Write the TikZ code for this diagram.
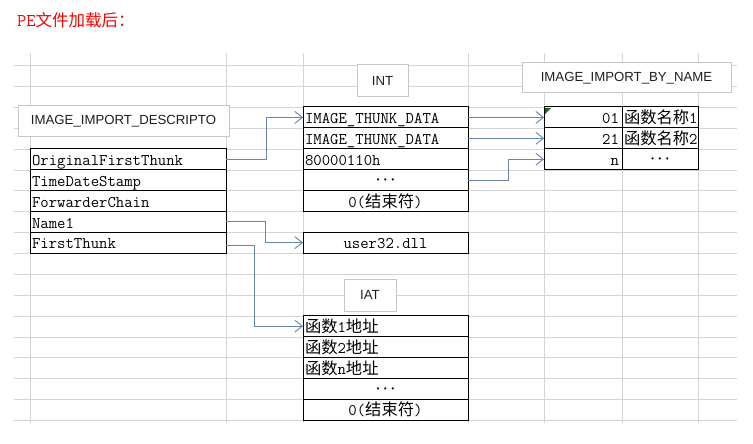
\documentclass[tikz,border=0pt]{standalone}
\usepackage{fontspec}
\newfontfamily\cjk{Noto Sans CJK SC}
\newfontfamily\lblfamily{Liberation Sans}
\usetikzlibrary{arrows.meta}
\definecolor{gridgray}{RGB}{212,212,212}
\definecolor{arrowblue}{RGB}{104,134,172}
\definecolor{lblborder}{RGB}{198,198,198}
\definecolor{lbltext}{RGB}{30,30,30}
\definecolor{marker}{RGB}{30,100,40}
\newcommand{\tabfont}{\ttfamily\fontsize{16.3}{18}\selectfont}
\newcommand{\cj}[1]{{\cjk #1}}
\newcommand{\ddd}{\raisebox{2.5pt}{\fontsize{15}{15}\selectfont\boldmath$\cdots$}}
\begin{document}
\begin{tikzpicture}[x=1pt,y=-1pt,
  gridline/.style={draw=gridgray, line width=1.3pt},
  cell/.style={draw=black, line width=1pt, fill=white, inner xsep=2pt, inner ysep=0pt, outer sep=0pt,
    minimum height=20.867pt, text height=13.5pt, text depth=1pt, font=\tabfont},
  dcell/.style={cell, text width=192pt, align=left},
  icellL/.style={cell, text width=161pt, align=left},
  icellC/.style={cell, text width=161pt, align=center},
  nA/.style={cell, text width=72pt, inner xsep=3pt, align=right},
  nB/.style={cell, text width=72pt, align=left},
  nBC/.style={cell, text width=72pt, align=center},
  lbl/.style={draw=lblborder, line width=1pt, fill=white, inner sep=0pt,
    font=\lblfamily\fontsize{13.2}{15}\selectfont, text=lbltext},
  conn/.style={draw=arrowblue, line width=0.9pt, -{Straight Barb[length=7.5pt,width=12pt,line width=0.9pt]}}
]
\useasboundingbox (0,0) rectangle (753,444);
% spreadsheet grid
\foreach \k in {-2,...,15} \draw[gridline] (14,{round(107+20.867*\k)+0.5}) -- (737,{round(107+20.867*\k)+0.5});
\foreach \x in {30,226,303,468,544,622,698} \draw[gridline] (\x+0.5,53) -- (\x+0.5,423);

% title
\node[anchor=base west, inner sep=0pt, text=red] (title) at (17,27)
  {{\ttfamily\fontsize{18}{20}\selectfont PE}{\cjk\fontsize{16.5}{18}\selectfont 文件加载后：}};

% labels
\node[lbl, minimum width=211pt, minimum height=30pt] (ldesc) at (123.5,121) {IMAGE\_IMPORT\_DESCRIPTO};
\node[lbl, minimum width=51pt, minimum height=32pt] (lint) at (382.5,81) {INT};
\node[lbl, minimum width=209pt, minimum height=30pt] (lbyname) at (626.5,78) {IMAGE\_IMPORT\_BY\_NAME};
\node[lbl, minimum width=52pt, minimum height=32pt] (liat) at (370,295) {IAT};

% IMAGE_IMPORT_DESCRIPTOR table
\node[dcell] (d1) at (128,159.17) {OriginalFirstThunk};
\node[dcell] (d2) at (128,180.03) {TimeDateStamp};
\node[dcell] (d3) at (128,200.90) {ForwarderChain};
\node[dcell] (d4) at (128,221.77) {Name1};
\node[dcell] (d5) at (128,242.63) {FirstThunk};

% INT table
\node[icellL] (i1) at (385.5,117.43) {IMAGE\_THUNK\_DATA};
\node[icellL] (i2) at (385.5,138.30) {IMAGE\_THUNK\_DATA};
\node[icellL] (i3) at (385.5,159.17) {80000110h};
\node[icellC] (i4) at (385.5,180.03) {\ddd};
\node[icellC] (i5) at (385.5,200.90) {0(\cj{结束符})};

% dll name
\node[icellC] (u) at (385.5,242.63) {user32.dll};

% IAT table
\node[icellL] (a1) at (385.5,326.10) {\cj{函数}1\cj{地址}};
\node[icellL] (a2) at (385.5,346.97) {\cj{函数}2\cj{地址}};
\node[icellL] (a3) at (385.5,367.83) {\cj{函数}n\cj{地址}};
\node[icellC] (a4) at (385.5,388.70) {\ddd};
\node[icellC] (a5) at (385.5,409.57) {0(\cj{结束符})};

% IMAGE_IMPORT_BY_NAME table
\node[nA] (n1a) at (583,117.43) {01};
\node[nB] (n1b) at (660,117.43) {\cj{函数名称}1};
\node[nA] (n2a) at (583,138.30) {21};
\node[nB] (n2b) at (660,138.30) {\cj{函数名称}2};
\node[nA] (n3a) at (583,159.17) {n};
\node[nBC] (n3b) at (660,159.17) {\ddd};
\fill[marker] (545,108) -- (551,108) -- (545,114) -- cycle;

% connectors
\draw[conn] (d1.east) -- ++(40,0) |- (i1.west);
\draw[conn] (i1.east) -- (n1a.west);
\draw[conn] (i2.east) -- (n2a.west);
\draw[conn] (i4.east) -- ++(40,0) |- (n3a.west);
\draw[conn] (d4.east) -- ++(39,0) |- (u.west);
\draw[conn] ([yshift=-3pt]d5.east) -- ++(28,0) |- (a1.west);
\end{tikzpicture}
\end{document}
